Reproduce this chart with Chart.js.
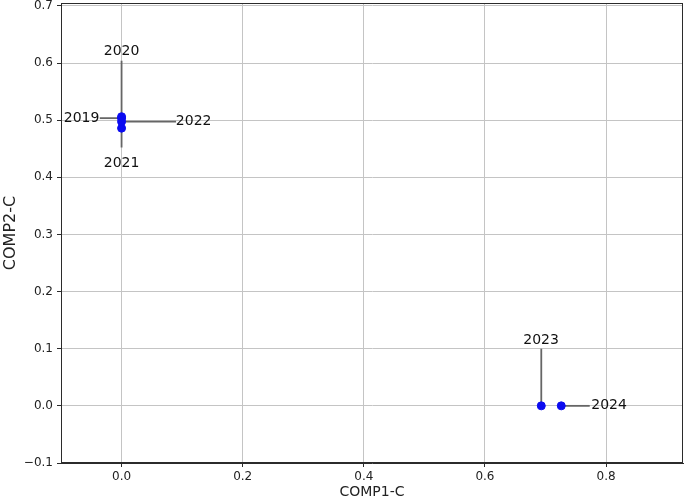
<!DOCTYPE html>
<html>
<head>
<meta charset="utf-8">
<script src="https://cdn.jsdelivr.net/npm/chart.js@4"></script>
<style>
  html, body { margin: 0; padding: 0; background: #fff; }
  #wrap { width: 685px; height: 503px; }
</style>
</head>
<body>
<div id="wrap"><canvas id="scatterChart"></canvas></div>
<script>
const years = ['2019', '2020', '2021', '2022', '2023', '2024'];
const comp1 = [0.0, 0.0, 0.0, 0.0, 0.693, 0.726];
const comp2 = [0.5035, 0.506, 0.486, 0.4974, 0.0, 0.0];

// where each year label sits, and where its leader line stops
const labelX = [-0.066, 0.0, 0.0, 0.119, 0.6926, 0.805];
const labelY = [0.5035, 0.62, 0.4235, 0.4974, 0.1145, 0.0];
const leadX = [-0.036, 0.0, 0.0, 0.09, 0.693, 0.773];
const leadY = [0.5035, 0.604, 0.452, 0.4974, 0.1, 0.0];

const xTicks = [0.0, 0.2, 0.4, 0.6, 0.8];
const yTicks = [-0.1, 0.0, 0.1, 0.2, 0.3, 0.4, 0.5, 0.6, 0.7];

const fontFamily = '"DejaVu Sans", sans-serif';
const fmt = v => (v < 0 ? '\u2212' : '') + Math.abs(v).toFixed(1);

// leader lines go under the dots
const leaderSets = years.map((y, i) => ({
    type: 'line',
    data: [{ x: comp1[i], y: comp2[i] }, { x: leadX[i], y: leadY[i] }],
    borderColor: '#666',
    borderWidth: 1.8,
    pointRadius: 0,
    fill: false,
    order: 2
}));

// frame + year labels
const extrasPlugin = {
    id: 'extras',
    afterDatasetsDraw(chart) {
        const { ctx, chartArea: a, scales } = chart;
        ctx.save();
        ctx.strokeStyle = '#2b2b2b';
        ctx.lineWidth = 1;
        ctx.strokeRect(a.left + 0.5, a.top + 0.5, a.right - a.left - 1, a.bottom - a.top - 1);
        ctx.fillStyle = '#111';
        ctx.font = '14px ' + fontFamily;
        ctx.textAlign = 'center';
        ctx.textBaseline = 'middle';
        years.forEach((y, i) => {
            ctx.fillText(y, scales.x.getPixelForValue(labelX[i]), scales.y.getPixelForValue(labelY[i]));
        });
        ctx.restore();
    }
};

new Chart(document.getElementById('scatterChart'), {
    type: 'scatter',
    data: {
        datasets: [{
            data: comp1.map((x, i) => ({ x: x, y: comp2[i] })),
            backgroundColor: '#0b0bf0',
            borderColor: '#0b0bf0',
            pointRadius: 4,
            pointHoverRadius: 4,
            order: 1
        }].concat(leaderSets)
    },
    options: {
        responsive: true,
        maintainAspectRatio: false,
        animation: false,
        layout: { autoPadding: false, padding: { top: 3, right: 2, left: 0, bottom: 0 } },
        plugins: {
            legend: { display: false },
            tooltip: { enabled: false }
        },
        scales: {
            x: {
                type: 'linear',
                min: -0.1,
                max: 0.927,
                afterBuildTicks: s => { s.ticks = xTicks.map(v => ({ value: v })); },
                afterFit: s => { s.height = 40; s.paddingLeft = 0; s.paddingRight = 0; },
                grid: { color: '#c4c4c4', tickColor: '#2b2b2b', tickLength: 4, lineWidth: 1 },
                border: { color: '#2b2b2b' },
                ticks: {
                    color: '#222',
                    padding: 3,
                    maxRotation: 0,
                    font: { family: fontFamily, size: 12 },
                    callback: v => fmt(v)
                },
                title: {
                    display: true,
                    text: 'COMP1-C',
                    color: '#222',
                    padding: { top: 0, bottom: 2 },
                    font: { family: fontFamily, size: 14 }
                }
            },
            y: {
                type: 'linear',
                min: -0.1,
                max: 0.705,
                afterBuildTicks: s => { s.ticks = yTicks.map(v => ({ value: v })); },
                afterFit: s => { s.width = 61; s.paddingTop = 0; s.paddingBottom = 0; },
                grid: { color: '#c4c4c4', tickColor: '#2b2b2b', tickLength: 4, lineWidth: 1 },
                border: { color: '#2b2b2b' },
                ticks: {
                    color: '#222',
                    padding: 4,
                    font: { family: fontFamily, size: 12 },
                    callback: v => fmt(v)
                },
                title: {
                    display: true,
                    text: 'COMP2-C',
                    color: '#222',
                    padding: { top: 1, bottom: 2 },
                    font: { family: fontFamily, size: 16 }
                }
            }
        }
    },
    plugins: [extrasPlugin]
});
</script>
</body>
</html>
